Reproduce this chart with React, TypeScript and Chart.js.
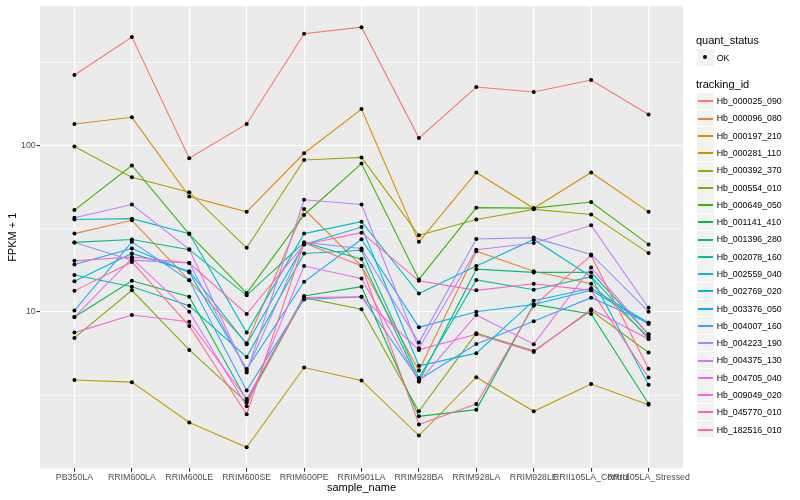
import React, { useEffect, useRef } from "react";
import { Chart, registerables } from "chart.js";

Chart.register(...registerables);

const categories = [
  "PB350LA",
  "RRIM600LA",
  "RRIM600LE",
  "RRIM600SE",
  "RRIM600PE",
  "RRIM901LA",
  "RRIM928BA",
  "RRIM928LA",
  "RRIM928LE",
  "RRII105LA_Control",
  "RRII105LA_Stressed",
];

const trackingIds = [
  "Hb_000025_090",
  "Hb_000096_080",
  "Hb_000197_210",
  "Hb_000281_110",
  "Hb_000392_370",
  "Hb_000554_010",
  "Hb_000649_050",
  "Hb_001141_410",
  "Hb_001396_280",
  "Hb_002078_160",
  "Hb_002559_040",
  "Hb_002769_020",
  "Hb_003376_050",
  "Hb_004007_160",
  "Hb_004223_190",
  "Hb_004375_130",
  "Hb_004705_040",
  "Hb_009049_020",
  "Hb_045770_010",
  "Hb_182516_010",
];

const colors = [
  "#F8766D", "#EA8331", "#D89000", "#C09B00", "#A3A500",
  "#7CAE00", "#39B600", "#00BB4E", "#00BF7D", "#00C1A3",
  "#00BFC4", "#00BAE0", "#00B0F6", "#35A2FF", "#9590FF",
  "#C77CFF", "#E76BF3", "#FA62DB", "#FF62BC", "#FF6C91",
];

// FPKM + 1 per sample (order of categories)
const hb000025_090 = [266, 450, 84, 135, 470, 515, 111, 225, 210, 248, 154];
const hb000096_080 = [29.6, 35.6, 15.5, 6.49, 41.6, 18.9, 4.45, 23.2, 17.6, 14.8, 7.11];
const hb000197_210 = [135, 148, 49.5, 40, 90, 166, 26.4, 69, 42, 69, 40];
const hb000281_110 = [3.9, 3.79, 2.17, 1.54, 4.64, 3.88, 1.81, 4.06, 2.53, 3.69, 2.77];
const hb000392_370 = [98.8, 64.6, 52.5, 24.3, 82, 85, 28.9, 36, 41.4, 38.6, 22.6];
const hb000554_010 = [6.99, 13.5, 5.92, 2.86, 12.2, 10.4, 2.53, 7.46, 5.84, 10.2, 5.71];
const hb000649_050 = [41, 76, 29.4, 13.0, 38.3, 78, 15.7, 42.4, 42.1, 45.8, 25.5];
const hb001141_410 = [9.33, 15.4, 12.35, 2.94, 12.5, 14.2, 2.36, 2.59, 11.1, 9.73, 2.81];
const hb001396_280 = [26.2, 27.3, 23.7, 12.6, 26.2, 20.8, 3.82, 18.1, 17.3, 17.3, 7.35];
const hb002078_160 = [16.7, 14.2, 10.9, 5.36, 22.5, 23.5, 4.01, 15.6, 13.6, 16.3, 6.89];
const hb002559_040 = [36.0, 36.4, 29.6, 7.52, 29.6, 34.9, 12.9, 18.9, 27.3, 16.3, 3.65];
const hb002769_020 = [15.3, 22.5, 17.6, 6.41, 25.5, 32.4, 4.75, 5.66, 11.7, 13.9, 8.63];
const hb003376_050 = [19.3, 24.1, 17.3, 4.54, 15.2, 27.4, 8.1, 10.04, 11.1, 13.5, 8.48];
const hb004007_160 = [10.2, 26.4, 15.5, 3.38, 11.9, 12.35, 3.92, 6.43, 8.8, 12.2, 8.63];
const hb004223_190 = [26.2, 20.5, 19.7, 4.43, 26.2, 24.1, 6.55, 27.5, 28.0, 22.2, 10.04];
const hb004375_130 = [36.9, 44.3, 23.8, 4.33, 47.3, 44.3, 6.06, 23.7, 26.0, 33.2, 10.6];
const hb004705_040 = [9.33, 21.0, 10.04, 2.71, 18.9, 15.9, 3.82, 9.6, 6.41, 18.5, 7.35];
const hb009049_020 = [7.52, 9.6, 8.75, 3.0, 12.2, 12.35, 5.92, 7.35, 5.76, 10.4, 6.89];
const hb045770_010 = [20.3, 21.4, 19.7, 9.73, 25.5, 30.0, 15.4, 13.5, 14.8, 13.5, 4.04];
const hb182516_010 = [13.4, 20.0, 8.25, 2.43, 26.0, 18.9, 2.11, 2.8, 10.9, 21.9, 4.56];

const series = [
  hb000025_090, hb000096_080, hb000197_210, hb000281_110, hb000392_370,
  hb000554_010, hb000649_050, hb001141_410, hb001396_280, hb002078_160,
  hb002559_040, hb002769_020, hb003376_050, hb004007_160, hb004223_190,
  hb004375_130, hb004705_040, hb009049_020, hb045770_010, hb182516_010,
];

const yMajorTicks = [10, 100];
const yMinorTicks = [3.162, 31.62, 316.2];
const yMin = 1.15;
const yMax = 689;

const FONT = '"Liberation Sans", Arial, Helvetica, sans-serif';

const panelBg = {
  id: "panelBg",
  beforeDraw(chart: any) {
    const { ctx, chartArea: a } = chart;
    ctx.save();
    ctx.fillStyle = "#EBEBEB";
    ctx.fillRect(a.left, a.top, a.right - a.left, a.bottom - a.top);
    ctx.restore();
  },
};

function isMajor(v: number) {
  return yMajorTicks.indexOf(v) >= 0;
}

export default function App() {
  const canvasRef = useRef<HTMLCanvasElement | null>(null);

  useEffect(() => {
    const canvas = canvasRef.current;
    if (!canvas) return;

    const lineSets = series.map((vals, i) => ({
      type: "line",
      label: trackingIds[i],
      data: vals.map((v, j) => ({ x: j, y: v })),
      borderColor: colors[i],
      backgroundColor: colors[i],
      borderWidth: 1.1,
      pointRadius: 0,
      pointHoverRadius: 0,
      fill: false,
      tension: 0,
      order: 40 - i,
    }));
    const pointSets = series.map((vals, i) => ({
      type: "line",
      label: trackingIds[i] + " OK",
      data: vals.map((v, j) => ({ x: j, y: v })),
      showLine: false,
      borderColor: "#000",
      pointRadius: 2,
      pointHoverRadius: 2,
      pointBackgroundColor: "#000",
      pointBorderWidth: 0,
      order: 0,
    }));

    const chart = new Chart(canvas, {
      type: "line",
      data: { datasets: [...lineSets, ...pointSets] as any },
      options: {
        animation: false,
        responsive: false,
        maintainAspectRatio: false,
        events: [],
        layout: { padding: { left: 0, top: 5, right: 117, bottom: 0 } },
        plugins: {
          legend: { display: false },
          tooltip: { enabled: false },
        },
        scales: {
          x: {
            type: "linear",
            min: -0.6,
            max: 10.6,
            afterBuildTicks: (s: any) => {
              s.ticks = categories.map((_, i) => ({ value: i }));
            },
            afterFit: (s: any) => {
              s.height = 31.7;
            },
            ticks: {
              autoSkip: false,
              maxRotation: 0,
              minRotation: 0,
              padding: 0.8,
              color: "#4D4D4D",
              font: { family: FONT, size: 8.8 },
              callback: (v: any) => categories[v as number],
            },
            grid: {
              color: "#FFFFFF",
              lineWidth: 1.1,
              tickLength: 3.4,
              tickColor: "#333333",
              tickWidth: 1.1,
            },
            border: { display: false },
            title: {
              display: true,
              text: "sample_name",
              color: "#000",
              font: { family: FONT, size: 11 },
              padding: { top: 0, bottom: 5.1 },
            },
          },
          y: {
            type: "logarithmic",
            min: yMin,
            max: yMax,
            afterBuildTicks: (s: any) => {
              s.ticks = [...yMinorTicks, ...yMajorTicks]
                .sort((a, b) => a - b)
                .map((v) => ({ value: v }));
            },
            afterFit: (s: any) => {
              s.width = 40;
            },
            ticks: {
              autoSkip: false,
              padding: 0.9,
              color: "#4D4D4D",
              font: { family: FONT, size: 8.8 },
              callback: (v: any) => (isMajor(v as number) ? String(v) : ""),
            },
            grid: {
              color: "#FFFFFF",
              lineWidth: (ctx: any) => (ctx.tick && isMajor(ctx.tick.value) ? 1.1 : 0.55),
              tickLength: 3.4,
              tickColor: (ctx: any) =>
                ctx.tick && isMajor(ctx.tick.value) ? "#333333" : "rgba(0,0,0,0)",
              tickWidth: 1.1,
            },
            border: { display: false },
            title: {
              display: true,
              text: "FPKM + 1",
              color: "#000",
              font: { family: FONT, size: 11 },
              padding: { top: 6.7, bottom: 0 },
            },
          },
        },
      } as any,
      plugins: [panelBg],
    });

    return () => chart.destroy();
  }, []);

  const keyTop0 = 92.6;
  const keyStep = 17.28;

  return (
    <div
      style={{
        position: "absolute",
        left: 0,
        top: 0,
        width: 800,
        height: 500,
        background: "#FFFFFF",
        overflow: "hidden",
        fontFamily: FONT,
      }}
    >
      <canvas
        ref={canvasRef}
        width={800}
        height={500}
        style={{ position: "absolute", left: 0, top: 0, width: 800, height: 500 }}
      />
      <div
        style={{
          position: "absolute",
          left: 696,
          top: 34,
          fontSize: 11,
          lineHeight: "13px",
          color: "#000",
          whiteSpace: "nowrap",
        }}
      >
        quant_status
      </div>
      <div
        style={{
          position: "absolute",
          left: 697,
          top: 49,
          width: 16.5,
          height: 16.5,
          background: "#F2F2F2",
        }}
      >
        <div
          style={{
            position: "absolute",
            left: 6.3,
            top: 6.3,
            width: 3.9,
            height: 3.9,
            borderRadius: "50%",
            background: "#000",
          }}
        />
      </div>
      <div
        style={{
          position: "absolute",
          left: 716.7,
          top: 51.5,
          fontSize: 8.8,
          lineHeight: "12px",
          color: "#000",
          whiteSpace: "nowrap",
        }}
      >
        OK
      </div>
      <div
        style={{
          position: "absolute",
          left: 696,
          top: 78,
          fontSize: 11,
          lineHeight: "13px",
          color: "#000",
          whiteSpace: "nowrap",
        }}
      >
        tracking_id
      </div>
      {trackingIds.map((id, i) => {
        const top = keyTop0 + i * keyStep;
        const lineTop = Math.round(top + 7.8);
        return (
          <React.Fragment key={id}>
            <div
              style={{
                position: "absolute",
                left: 697,
                top,
                width: 16.5,
                height: 16.5,
                background: "#F2F2F2",
              }}
            />
            <div
              style={{
                position: "absolute",
                left: 698,
                top: lineTop,
                width: 14.5,
                height: 1.5,
                background: colors[i],
              }}
            />
            <div
              style={{
                position: "absolute",
                left: 716.7,
                top: top + 2.6,
                fontSize: 8.8,
                lineHeight: "12px",
                color: "#000",
                whiteSpace: "nowrap",
              }}
            >
              {id}
            </div>
          </React.Fragment>
        );
      })}
    </div>
  );
}
